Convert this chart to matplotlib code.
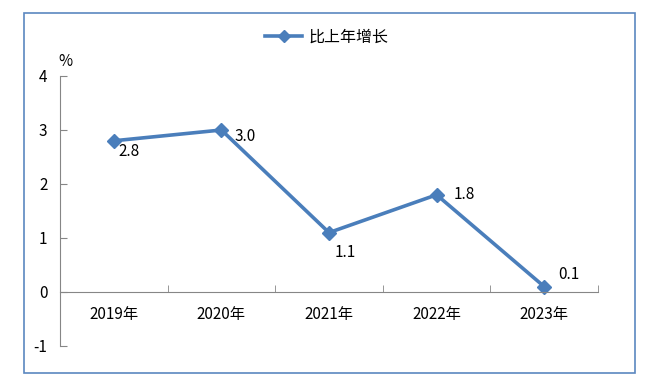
import matplotlib.pyplot as plt
from matplotlib.patches import Rectangle
from matplotlib.lines import Line2D

plt.rcParams['font.family'] = ['Noto Sans CJK SC', 'DejaVu Sans']

# DATA

years  = ['2019年', '2020年', '2021年', '2022年', '2023年']
growth = [2.8, 3.0, 1.1, 1.8, 0.1]
# label offsets in points, relative to each point
offsets = [(11, -8), (17, -5), (12, -14), (20, 0), (18, 9)]

C_LINE   = '#4a7ebb'
C_AXIS   = '#868686'
C_BORDER = '#5b87c0'

W, H = 661, 384

fig = plt.figure(figsize=(W / 100, H / 100), dpi=100)
ax = fig.add_axes([60 / W, 1 - 346 / H, 538 / W, 270 / H])

x = range(len(years))
ax.plot(x, growth, color=C_LINE, lw=2.6, marker='D', ms=7, mec=C_LINE, mfc=C_LINE)

for i, v in enumerate(growth):
    ax.annotate('%.1f' % v, (i, v), xytext=offsets[i], textcoords='offset points',
                ha='center', va='center', fontsize=11, color='black')

ax.set_xlim(-0.5, len(years) - 0.5)
ax.set_ylim(-1, 4)

for s in ['top', 'right']:
    ax.spines[s].set_visible(False)
ax.spines['left'].set_color(C_AXIS)
ax.spines['bottom'].set_color(C_AXIS)
ax.spines['bottom'].set_position(('data', 0))

ax.set_yticks([-1, 0, 1, 2, 3, 4])
ax.set_yticklabels(['-1', '0', '1', '2', '3', '4'])
ax.set_xticks(x)
ax.set_xticklabels(years)
ax.set_xticks([i + 0.5 for i in x], minor=True)
ax.tick_params(axis='x', which='major', length=0, pad=10, labelsize=11)
ax.tick_params(axis='x', which='minor', direction='in', length=5, color=C_AXIS)
ax.tick_params(axis='y', direction='in', length=5, color=C_AXIS, pad=9, labelsize=11)

fig.text(65 / W, 1 - 62 / H, '%', ha='center', va='center', fontsize=11)

# legend
handle = Line2D([], [], color=C_LINE, lw=2.6, marker='D', ms=6)
fig.legend([handle], ['比上年增长'], loc='center', bbox_to_anchor=(327 / W, 1 - 37 / H),
           frameon=False, fontsize=11.5, handlelength=2.3, handletextpad=0.4)

fig.patches.append(Rectangle((24 / W, 1 - 373 / H), 611 / W, 360 / H, transform=fig.transFigure,
                             fill=False, edgecolor=C_BORDER, lw=1.2))

fig.savefig('out.png', dpi=100)
